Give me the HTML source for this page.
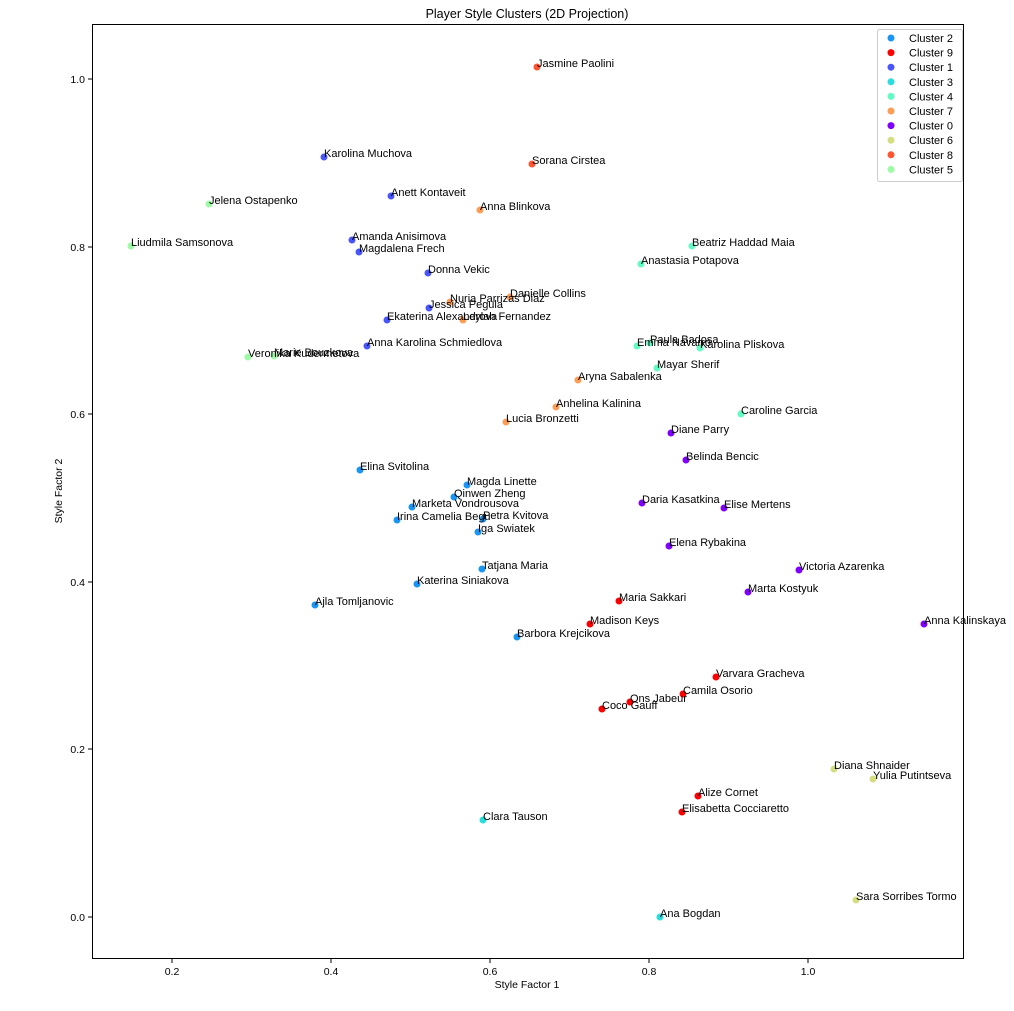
<!DOCTYPE html>
<html><head><style>body{margin:0;background:#fff}svg text{font-family:"Liberation Sans","DejaVu Sans",sans-serif}</style></head><body>
<svg width="1014" height="1006" xmlns="http://www.w3.org/2000/svg" font-size="11">
<rect width="1014" height="1006" fill="#fff"/>
<text x="527" y="18" text-anchor="middle" font-size="12.5">Player Style Clusters (2D Projection)</text>
<rect x="92.5" y="24.5" width="871" height="934" fill="none" stroke="#000" stroke-width="1"/>
<g stroke="#000">
<line x1="172" y1="959" x2="172" y2="963"/><line x1="331" y1="959" x2="331" y2="963"/><line x1="490" y1="959" x2="490" y2="963"/><line x1="649" y1="959" x2="649" y2="963"/><line x1="808" y1="959" x2="808" y2="963"/>
<line x1="88" y1="917" x2="92" y2="917"/><line x1="88" y1="749" x2="92" y2="749"/><line x1="88" y1="582" x2="92" y2="582"/><line x1="88" y1="414" x2="92" y2="414"/><line x1="88" y1="247" x2="92" y2="247"/><line x1="88" y1="79" x2="92" y2="79"/>
</g>
<g text-anchor="middle" font-size="10.5"><text x="172" y="975">0.2</text><text x="331" y="975">0.4</text><text x="490" y="975">0.6</text><text x="649" y="975">0.8</text><text x="808" y="975">1.0</text></g>
<g text-anchor="end" font-size="10.5"><text x="85" y="921">0.0</text><text x="85" y="753">0.2</text><text x="85" y="586">0.4</text><text x="85" y="418">0.6</text><text x="85" y="251">0.8</text><text x="85" y="83">1.0</text></g>
<text x="527" y="988" text-anchor="middle" font-size="10.5">Style Factor 1</text>
<text transform="translate(62,491) rotate(-90)" text-anchor="middle" font-size="10.5">Style Factor 2</text>
<g id="pts"></g>
<g>
<rect x="877.5" y="29.5" width="85" height="152" fill="#fff" stroke="#ccc" rx="2"/>
</g>
<g id="leg"></g>
</svg>
<script>
const C={0:"#8000ff",1:"#4856fb",2:"#1996f3",3:"#2adddd",4:"#62fbc4",5:"#9cfba4",6:"#d4dd80",7:"#ff9d55",8:"#ff5430",9:"#ff0000"};
const P=[
[2,"Elina Svitolina",360,470],[2,"Magda Linette",467,485],[2,"Qinwen Zheng",454,497],[2,"Marketa Vondrousova",412,507],[2,"Irina Camelia Begu",397,520],[2,"Petra Kvitova",483,519],[2,"Iga Swiatek",478,532],[2,"Tatjana Maria",482,569],[2,"Katerina Siniakova",417,584],[2,"Ajla Tomljanovic",315,605],[2,"Barbora Krejcikova",517,637],
[9,"Maria Sakkari",619,601],[9,"Madison Keys",590,624],[9,"Varvara Gracheva",716,677],[9,"Camila Osorio",683,694],[9,"Ons Jabeur",630,702],[9,"Coco Gauff",602,709],[9,"Alize Cornet",698,796],[9,"Elisabetta Cocciaretto",682,812],
[1,"Karolina Muchova",324,157],[1,"Anett Kontaveit",391,196],[1,"Amanda Anisimova",352,240],[1,"Magdalena Frech",359,252],[1,"Donna Vekic",428,273],[1,"Jessica Pegula",429,308],[1,"Ekaterina Alexandrova",387,320],[1,"Anna Karolina Schmiedlova",367,346],
[3,"Clara Tauson",483,820],[3,"Ana Bogdan",660,917],
[4,"Beatriz Haddad Maia",692,246],[4,"Anastasia Potapova",641,264],[4,"Emma Navarro",637,346],[4,"Paula Badosa",650,343],[4,"Karolina Pliskova",700,348],[4,"Mayar Sherif",657,368],[4,"Caroline Garcia",741,414],
[7,"Anna Blinkova",480,210],[7,"Nuria Parrizas Diaz",450,302],[7,"Danielle Collins",510,297],[7,"Leylah Fernandez",463,320],[7,"Aryna Sabalenka",578,380],[7,"Anhelina Kalinina",556,407],[7,"Lucia Bronzetti",506,422],
[0,"Diane Parry",671,433],[0,"Belinda Bencic",686,460],[0,"Daria Kasatkina",642,503],[0,"Elise Mertens",724,508],[0,"Elena Rybakina",669,546],[0,"Victoria Azarenka",799,570],[0,"Marta Kostyuk",748,592],[0,"Anna Kalinskaya",924,624],
[6,"Diana Shnaider",834,769],[6,"Yulia Putintseva",873,779],[6,"Sara Sorribes Tormo",856,900],
[8,"Jasmine Paolini",537,67],[8,"Sorana Cirstea",532,164],
[5,"Jelena Ostapenko",209,204],[5,"Liudmila Samsonova",131,246],[5,"Veronika Kudermetova",248,357],[5,"Marie Bouzkova",274,356]];
const ns="http://www.w3.org/2000/svg";const g=document.getElementById("pts");
P.forEach(p=>{const c=document.createElementNS(ns,"circle");c.setAttribute("cx",p[2]);c.setAttribute("cy",p[3]);c.setAttribute("r",3.5);c.setAttribute("fill",C[p[0]]);g.appendChild(c);});
P.forEach(p=>{const t=document.createElementNS(ns,"text");t.setAttribute("x",p[2]);t.setAttribute("y",p[3]);t.textContent=p[1];g.appendChild(t);});
const L=[2,9,1,3,4,7,0,6,8,5],lg=document.getElementById("leg");
L.forEach((k,i)=>{const y=38+i*14.6;const c=document.createElementNS(ns,"circle");c.setAttribute("cx",891);c.setAttribute("cy",y);c.setAttribute("r",3.5);c.setAttribute("fill",C[k]);lg.appendChild(c);const t=document.createElementNS(ns,"text");t.setAttribute("x",909);t.setAttribute("y",y+4);t.textContent="Cluster "+k;lg.appendChild(t);});
</script>
</body></html>
